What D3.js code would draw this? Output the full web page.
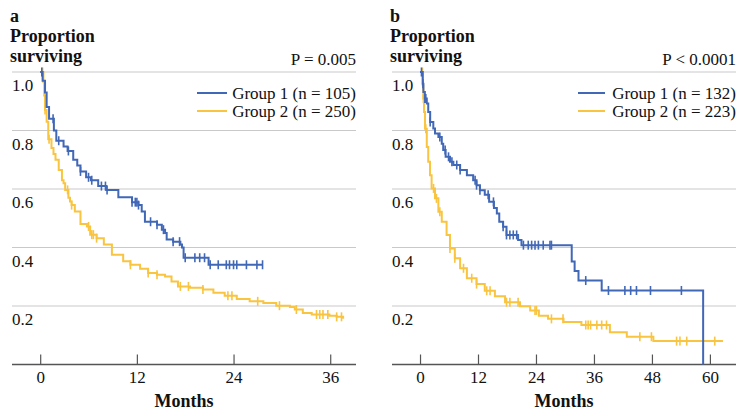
<!DOCTYPE html>
<html><head><meta charset="utf-8">
<script src="https://cdn.jsdelivr.net/npm/d3@7"></script>
<style>html,body{margin:0;padding:0;background:#fff;} svg{display:block;}</style>
</head><body>
<script>
// ---------- DATA ----------
const panelLetters = ["a", "b"];
const pValues = ["P = 0.005", "P < 0.0001"];
const groupLabels = ["Group 1", "Group 2"];
const aGroupN = [105, 250];
const bGroupN = [132, 223];
const yTicks = [0.2, 0.4, 0.6, 0.8, 1.0];
const aXTicks = [0, 12, 24, 36];
const bXTicks = [0, 12, 24, 36, 48, 60];

// Panel a, Group 1: event times (months) and survival after each step
const aG1Time = [0, 0.3, 0.6, 0.8, 1.1, 1.7, 2.0, 2.9, 3.4, 4.1, 4.6, 5.0, 5.7, 6.3, 7.2, 8.2, 9.7, 11.4, 12.2, 12.6, 13.0, 14.5, 15.1, 15.5, 15.7, 16.5, 17.4, 17.6, 17.8, 20.9, 27.6];
const aG1Surv = [1, 0.97, 0.93, 0.88, 0.84, 0.80, 0.765, 0.745, 0.73, 0.70, 0.68, 0.66, 0.64, 0.63, 0.61, 0.597, 0.572, 0.555, 0.545, 0.523, 0.488, 0.478, 0.461, 0.45, 0.427, 0.42, 0.41, 0.40, 0.365, 0.341, 0.341];
const aG1Censor = [0.2, 1.6, 2.3, 3.5, 5.0, 6.0, 6.4, 7.6, 8.1, 8.3, 11.4, 11.8, 12.0, 12.2, 13.7, 14.5, 15.3, 16.5, 17.3, 18.0, 19.2, 19.8, 20.4, 21.1, 22.1, 23.1, 23.5, 24.0, 24.4, 25.6, 26.9, 27.6];

// Panel a, Group 2
const aG2Time = [0, 0.4, 0.5, 0.6, 0.8, 1.0, 1.4, 1.65, 1.9, 2.3, 2.7, 2.9, 3.1, 3.5, 3.7, 3.9, 4.3, 5.0, 5.8, 6.2, 7.0, 7.9, 8.9, 10.3, 11.2, 12.4, 13.4, 14.5, 15.5, 16.3, 17.1, 18.6, 20.2, 21.5, 22.9, 24.4, 26.0, 27.7, 29.3, 31.0, 31.6, 32.6, 33.7, 35.9, 36.8, 37.6];
const aG2Surv = [1, 0.966, 0.92, 0.87, 0.83, 0.77, 0.74, 0.72, 0.70, 0.665, 0.63, 0.62, 0.597, 0.57, 0.557, 0.545, 0.523, 0.48, 0.472, 0.444, 0.432, 0.41, 0.375, 0.353, 0.341, 0.327, 0.313, 0.307, 0.301, 0.284, 0.267, 0.262, 0.256, 0.245, 0.235, 0.224, 0.216, 0.21, 0.201, 0.197, 0.188, 0.176, 0.171, 0.167, 0.163, 0.156];
const aG2Censor = [0.3, 0.6, 1.1, 3.4, 3.9, 6.0, 6.4, 6.6, 7.0, 11.2, 13.4, 14.5, 17.4, 18.4, 20.2, 23.3, 23.8, 27.0, 29.7, 31.8, 34.3, 34.7, 35.1, 35.7, 36.8, 37.4];

// Panel b, Group 1
const bG1Time = [0, 0.56, 0.7, 1.0, 1.4, 1.7, 2.1, 2.75, 3.1, 3.8, 4.5, 4.8, 5.3, 6.2, 6.9, 8.3, 9.7, 11.0, 11.7, 12.4, 13.4, 14.3, 15.3, 15.9, 16.4, 17.2, 17.9, 20.3, 21.0, 31.4, 32.0, 32.8, 37.6, 58.6];
const bG1Surv = [1, 0.96, 0.932, 0.909, 0.892, 0.863, 0.829, 0.807, 0.79, 0.778, 0.755, 0.733, 0.71, 0.693, 0.682, 0.665, 0.647, 0.63, 0.613, 0.596, 0.58, 0.556, 0.535, 0.516, 0.488, 0.471, 0.443, 0.426, 0.408, 0.352, 0.32, 0.287, 0.253, 0];
const bG1Censor = [0.3, 0.6, 1.0, 1.2, 2.1, 4.1, 5.2, 5.9, 6.6, 7.6, 8.3, 11.4, 11.7, 12.4, 14.1, 15.2, 17.2, 17.9, 18.6, 19.3, 20.0, 21.4, 22.4, 23.1, 23.8, 24.5, 25.5, 26.9, 27.2, 34.3, 39.0, 42.4, 43.6, 44.8, 47.7, 54.1];

// Panel b, Group 2
const bG2Time = [0, 0.56, 0.68, 0.83, 1.03, 1.4, 1.7, 2.07, 2.4, 3.1, 3.8, 4.5, 5.5, 6.2, 7.2, 8.3, 9.7, 11.7, 13.4, 15.5, 17.6, 20.7, 22.8, 24.6, 26.5, 29.7, 33.4, 39.3, 42.8, 48.3, 62.7];
const bG2Surv = [1, 0.955, 0.909, 0.863, 0.806, 0.744, 0.693, 0.647, 0.602, 0.568, 0.522, 0.488, 0.443, 0.397, 0.363, 0.329, 0.295, 0.275, 0.252, 0.233, 0.213, 0.199, 0.185, 0.167, 0.156, 0.145, 0.135, 0.11, 0.095, 0.08, 0.08];
const bG2Censor = [0.5, 0.7, 1.2, 2.8, 3.4, 4.1, 6.2, 7.2, 9.0, 10.7, 11.7, 13.8, 14.5, 17.9, 18.6, 20.3, 23.8, 24.1, 27.2, 29.6, 34.3, 34.8, 35.3, 36.6, 37.6, 38.6, 45.5, 47.9, 53.1, 53.8, 55.2, 61.0];

// ---------- STYLE ----------
const W = 745, H = 416;
const colors = ["#4167B7", "#F9C43F"];
const FONT = "'Liberation Serif', 'Times New Roman', serif";

const svg = d3.select("body").append("svg").attr("width", W).attr("height", H)
  .style("font-family", FONT);

const y = d3.scaleLinear().domain([0, 1]).range([364.5, 72]);

const panels = [
  { letter: panelLetters[0], p: pValues[0], n: aGroupN, ticks: aXTicks,
    domain: [-3.5, 39.2], range: [12, 356],
    groups: [[aG1Time, aG1Surv, aG1Censor], [aG2Time, aG2Surv, aG2Censor]],
    legendX: [197, 227] },
  { letter: panelLetters[1], p: pValues[1], n: bGroupN, ticks: bXTicks,
    domain: [-5.8, 65.4], range: [392, 736],
    groups: [[bG1Time, bG1Surv, bG1Censor], [bG2Time, bG2Surv, bG2Censor]],
    legendX: [578, 605] }
];

panels.forEach(pn => {
  const x = d3.scaleLinear().domain(pn.domain).range(pn.range);
  const g = svg.append("g");
  const L = pn.range[0], R = pn.range[1];

  // gridlines
  g.selectAll("line.grid").data(yTicks).join("line")
    .attr("x1", L).attr("x2", R)
    .attr("y1", d => y(d)).attr("y2", d => y(d))
    .attr("stroke", "#c9c9c9").attr("stroke-width", 1);
  // y labels (below gridline)
  g.selectAll("text.ylab").data(yTicks).join("text")
    .attr("x", L).attr("y", d => y(d) + 19)
    .attr("font-size", 17).attr("fill", "#111")
    .text(d => d.toFixed(1));

  // x axis
  const axis = d3.axisBottom(x).tickValues(pn.ticks).tickSize(0).tickPadding(0).tickFormat(d3.format("d"));
  const ax = g.append("g").attr("transform", `translate(0,${y(0)})`).call(axis);
  ax.select(".domain").remove();
  ax.selectAll("text").attr("font-size", 17).attr("font-family", FONT).attr("fill", "#111").attr("dy", "18px");
  ax.selectAll(".tick").append("line").attr("y1", 0).attr("y2", -10).attr("stroke", "#555").attr("stroke-width", 1.2);
  g.append("line").attr("x1", L).attr("x2", R).attr("y1", y(0)).attr("y2", y(0))
    .attr("stroke", "#555").attr("stroke-width", 1.5);

  g.append("text").attr("x", (L + R) / 2).attr("y", 407).attr("text-anchor", "middle")
    .attr("font-size", 18).attr("font-weight", "bold").attr("fill", "#111").text("Months");

  // title
  const tl = L - 2;
  g.append("text").attr("x", tl).attr("y", 22).attr("font-size", 18).attr("font-weight", "bold").attr("fill", "#111").text(pn.letter);
  g.append("text").attr("x", tl).attr("y", 42).attr("font-size", 18).attr("font-weight", "bold").attr("fill", "#111").text("Proportion");
  g.append("text").attr("x", tl).attr("y", 62).attr("font-size", 18).attr("font-weight", "bold").attr("fill", "#111").text("surviving");
  g.append("text").attr("x", R).attr("y", 65).attr("text-anchor", "end").attr("font-size", 17).attr("fill", "#111").text(pn.p);

  // curves: group 2 first, group 1 on top
  [1, 0].forEach(gi => {
    const [T, S, C] = pn.groups[gi];
    const pts = T.map((t, i) => [t, S[i]]);
    const line = d3.line().x(d => x(d[0])).y(d => y(d[1])).curve(d3.curveStepAfter);
    g.append("path").attr("d", line(pts)).attr("fill", "none")
      .attr("stroke", colors[gi]).attr("stroke-width", 2);
    const sAt = t => { let s = 1; for (let i = 0; i < T.length; i++) { if (T[i] <= t) s = S[i]; } return s; };
    g.selectAll(null).data(C).join("line")
      .attr("x1", d => x(d)).attr("x2", d => x(d))
      .attr("y1", d => y(sAt(d)) - 4.5).attr("y2", d => y(sAt(d)) + 4.5)
      .attr("stroke", colors[gi]).attr("stroke-width", 1.6);
  });

  // legend
  [0, 1].forEach(gi => {
    const ly = 93 + gi * 18;
    g.append("line").attr("x1", pn.legendX[0]).attr("x2", pn.legendX[1]).attr("y1", ly).attr("y2", ly)
      .attr("stroke", colors[gi]).attr("stroke-width", 2);
    g.append("text").attr("x", R).attr("y", ly + 6).attr("text-anchor", "end")
      .attr("font-size", 17).attr("fill", "#111")
      .text(`${groupLabels[gi]} (n = ${pn.n[gi]})`);
  });
});
</script>
</body></html>
